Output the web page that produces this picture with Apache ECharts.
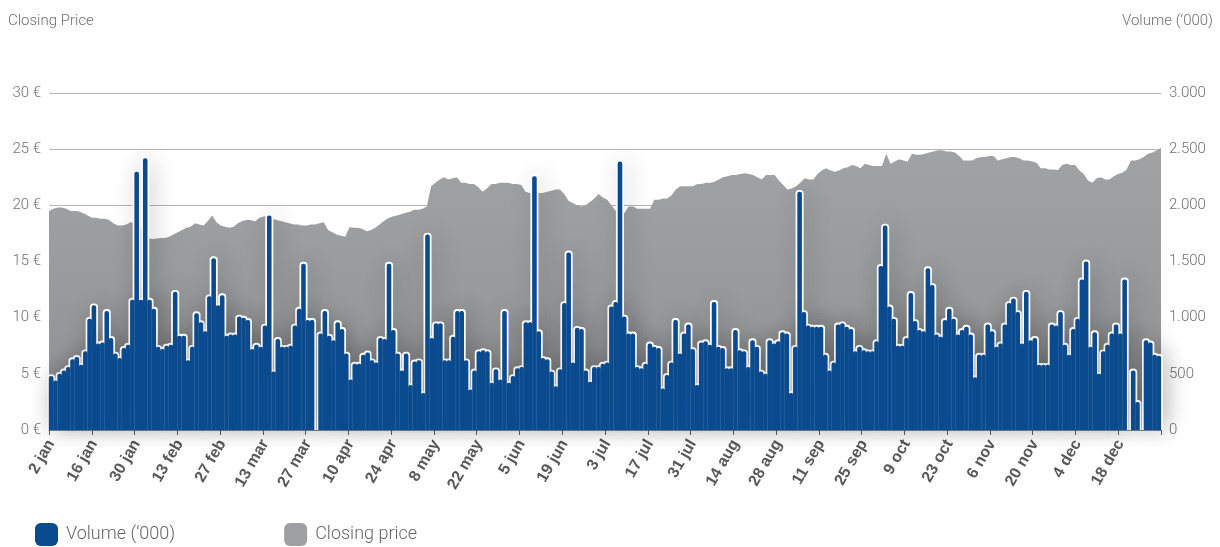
<!DOCTYPE html>
<html>
<head>
<meta charset="utf-8">
<script src="https://cdn.jsdelivr.net/npm/echarts@6/dist/echarts.min.js"></script>
<style>
html,body{margin:0;padding:0;background:#fff;}
#chart{width:1220px;height:547px;}
</style>
</head>
<body>
<div id="chart"></div>
<script>
// Volume ('000) per trading day, 2 jan – end of December
const volume = [
  480, 440, 500, 530, 560, 630, 650, 580, 700, 990,
  1110, 770, 780, 1060, 820, 680, 640, 730, 760, 1160,
  2300, 1160, 2420, 1160, 1080, 740, 720, 750, 760, 1230,
  840, 840, 620, 740, 1040, 960, 880, 1190, 1530, 1110,
  1200, 840, 850, 850, 1010, 1000, 980, 720, 760, 740,
  930, 1910, 520, 810, 740, 740, 750, 930, 1080, 1480,
  980, 980, null, 860, 1060, 840, 800, 960, 900, 680,
  450, 590, 590, 670, 690, 620, 600, 820, 810, 1480,
  890, 680, 530, 680, 400, 610, 620, 330, 1740, 820,
  950, 950, 620, 620, 830, 1060, 1060, 620, 360, 530,
  700, 710, 700, 420, 540, 450, 1060, 420, 480, 550,
  560, 960, 960, 2260, 880, 640, 630, 520, 390, 540,
  1130, 1580, 600, 910, 900, 530, 430, 560, 560, 590,
  600, 1100, 1140, 2390, 1010, 860, 860, 560, 550, 590,
  770, 740, 730, 370, 490, 600, 980, 680, 860, 940,
  720, 400, 780, 790, 760, 1140, 740, 730, 550, 550,
  890, 710, 700, 560, 800, 740, 520, 500, 800, 770,
  790, 870, 860, 330, 740, 2120, 1050, 930, 920, 920,
  920, 670, 530, 600, 940, 950, 920, 900, 700, 740,
  710, 700, 700, 790, 1460, 1820, 1100, 990, 750, 750,
  820, 1220, 970, 890, 880, 1440, 1290, 850, 830, 980,
  1080, 990, 850, 890, 920, 850, 470, 670, 670, 940,
  880, 740, 770, 940, 1130, 1170, 1050, 770, 1230, 800,
  820, 580, 580, 580, 940, 930, 1050, 760, 670, 900,
  990, 1340, 1500, 740, 870, 500, 700, 760, 860, 940,
  860, 1340, null, 530, 250, null, 800, 780, 670, 660
];

// Closing price (€) per trading day
const price = [
  19.5, 19.7, 19.8, 19.8, 19.7, 19.5, 19.5, 19.45, 19.3, 19.1,
  18.9, 18.9, 18.8, 18.8, 18.7, 18.4, 18.2, 18.2, 18.3, 18.5,
  18.4, 18.2, 17.6, 17.1, 17.0, 17.05, 17.1, 17.1, 17.2, 17.4,
  17.6, 17.8, 18.0, 18.1, 18.4, 18.3, 18.2, 18.6, 19.1, 18.5,
  18.2, 18.1, 18.0, 18.1, 18.4, 18.6, 18.7, 18.7, 18.55, 18.9,
  19.0, 19.1, 18.8, 18.7, 18.6, 18.5, 18.4, 18.3, 18.3, 18.2,
  18.2, 18.3, 18.3, 18.4, 18.5, 17.8, 17.6, 17.4, 17.3, 17.2,
  18.05, 18.0, 18.0, 17.9, 17.7, 17.8, 18.0, 18.3, 18.6, 18.85,
  19.0, 19.1, 19.2, 19.35, 19.4, 19.6, 19.6, 19.7, 19.9, 21.7,
  22.0, 22.3, 22.5, 22.3, 22.4, 22.5, 22.0, 22.0, 21.9, 21.9,
  21.6, 21.2, 21.5, 21.9, 21.9, 22.0, 22.0, 22.0, 21.9, 21.9,
  21.8, 21.2, 21.1, 21.1, 21.1, 21.1, 21.2, 21.3, 21.4, 21.4,
  21.0, 20.4, 20.2, 20.0, 19.9, 20.0, 20.3, 20.6, 21.0, 20.7,
  20.5, 20.0, 19.5, 19.2, 19.3, 19.9, 19.9, 19.7, 19.7, 19.7,
  19.7, 20.5, 20.5, 20.6, 20.6, 20.9, 21.4, 21.7, 21.7, 21.7,
  21.7, 21.9, 21.9, 22.0, 22.0, 22.1, 22.3, 22.5, 22.6, 22.7,
  22.7, 22.8, 22.85, 22.8, 22.7, 22.5, 22.3, 22.7, 22.7, 22.7,
  22.2, 21.8, 21.4, 21.5, 21.7, 22.0, 22.4, 22.3, 22.3, 22.8,
  23.1, 23.3, 23.1, 23.0, 23.1, 23.3, 23.4, 23.6, 23.5, 23.3,
  23.7, 23.6, 23.5, 23.5, 23.5, 24.6, 23.7, 23.9, 24.1, 24.0,
  23.9, 24.6, 24.5, 24.5, 24.6, 24.7, 24.8, 24.9, 24.9, 24.8,
  24.8, 24.7, 24.4, 24.0, 24.0, 24.0, 24.2, 24.3, 24.3, 24.4,
  24.4, 24.0, 24.1, 24.2, 24.3, 24.3, 24.2, 24.0, 24.0, 23.9,
  23.8, 23.3, 23.3, 23.2, 23.2, 23.15, 23.6, 23.7, 23.6, 23.6,
  23.1, 22.8, 22.2, 22.0, 22.4, 22.5, 22.3, 22.3, 22.6, 22.8,
  22.9, 23.2, 24.0, 24.0, 24.1, 24.3, 24.6, 24.7, 24.9, 25.1
];

const monthNames = ['jan','feb','mar','apr','may','jun','jul','aug','sep','oct','nov','dec'];
const firstDay = [2017, 0, 2]; // first trading day shown

// category labels: one per weekday, starting at firstDay
const categories = [];
(function () {
  const d = new Date(Date.UTC(firstDay[0], firstDay[1], firstDay[2]));
  while (categories.length < volume.length) {
    const wd = d.getUTCDay();
    if (wd !== 0 && wd !== 6) categories.push(d.getUTCDate() + ' ' + monthNames[d.getUTCMonth()]);
    d.setUTCDate(d.getUTCDate() + 1);
  }
})();

const priceTicks = { min: 0, max: 30, interval: 5 };
const volumeTicks = { min: 0, max: 3000, interval: 500 };
const labelEvery = 10;

function fmtThousands(v) {
  if (v >= 1000) return Math.floor(v / 1000) + '.' + String(v % 1000).padStart(3, '0');
  return String(v);
}

const BLUE = '#0a4a8e';
const GREY = '#9e9fa1';
const FONT = 'Roboto';
const OUT = 1.9; // white contour thickness (px)

const volumePairs = volume.map((v, i) => [i, v]);

function barRect(api, pad, overlap) {
  const v = api.value(1);
  if (v == null || isNaN(v)) return null;
  const i = api.value(0);
  const top = api.coord([i, v]);
  const base = api.coord([i, 0]);
  const w = api.size([1, 0])[0];
  return {
    x: top[0] - w / 2 - pad - overlap,
    y: top[1] - pad,
    width: w + 2 * pad + 2 * overlap,
    height: base[1] - top[1] + pad
  };
}

const chart = echarts.init(document.getElementById('chart'), null, { renderer: 'canvas' });
chart.setOption({
  animation: false,
  backgroundColor: '#ffffff',
  title: [
    { text: 'Closing Price', left: 3, top: 9,
      textStyle: { fontFamily: FONT, fontWeight: 300, fontSize: 15, color: '#6f6f6f' } },
    { text: 'Volume (\u2018000)', right: 2, top: 9,
      textStyle: { fontFamily: FONT, fontWeight: 300, fontSize: 15, color: '#6f6f6f' } }
  ],
  legend: {
    left: 30, top: 518,
    itemWidth: 23, itemHeight: 23, itemGap: 109,
    icon: 'roundRect',
    textStyle: { fontFamily: FONT, fontWeight: 300, fontSize: 18, color: '#666', padding: [0, 0, 0, 3] },
    data: [
      { name: 'Volume (\u2018000)', itemStyle: { color: BLUE } },
      { name: 'Closing price', itemStyle: { color: GREY } }
    ]
  },
  grid: { left: 49, right: 59, top: 93, bottom: 117, containLabel: false },
  xAxis: [
    {
      type: 'category', data: categories, boundaryGap: true,
      axisLine: { lineStyle: { color: '#8a8a8a', width: 1 } },
      axisTick: { show: true, interval: labelEvery - 1, length: 5, lineStyle: { color: '#666' } },
      axisLabel: {
        interval: labelEvery - 1, rotate: 60, margin: 11,
        fontFamily: 'Liberation Sans', fontWeight: 'bold', fontSize: 16, color: '#595959'
      },
      splitLine: { show: false }
    },
    { type: 'category', data: categories, boundaryGap: false, show: false }
  ],
  yAxis: [
    {
      type: 'value', min: priceTicks.min, max: priceTicks.max, interval: priceTicks.interval,
      position: 'left',
      axisLine: { show: false }, axisTick: { show: false },
      axisLabel: { formatter: '{value} \u20ac', margin: 8, fontFamily: FONT, fontWeight: 300, fontSize: 15, color: '#707070' },
      splitLine: { show: true, lineStyle: { color: '#b5b5b5', width: 1 } }
    },
    {
      type: 'value', min: volumeTicks.min, max: volumeTicks.max, interval: volumeTicks.interval,
      position: 'right',
      axisLine: { show: false }, axisTick: { show: false },
      axisLabel: { formatter: fmtThousands, margin: 8, fontFamily: FONT, fontWeight: 300, fontSize: 15, color: '#707070' },
      splitLine: { show: false }
    }
  ],
  series: [
    {
      name: 'Closing price', type: 'line', xAxisIndex: 1, yAxisIndex: 0,
      data: price, symbol: 'none', z: 1,
      itemStyle: { color: GREY },
      lineStyle: { width: 0, color: GREY },
      areaStyle: {
        opacity: 1,
        color: new echarts.graphic.LinearGradient(0, 0, 0, 1, [
          { offset: 0, color: '#a1a2a4' },
          { offset: 0.55, color: '#98999b' },
          { offset: 1, color: '#8c8d8f' }
        ])
      }
    },
    {
      name: 'outline', type: 'custom', xAxisIndex: 0, yAxisIndex: 1,
      data: volumePairs, z: 2, silent: true,
      encode: { x: 0, y: 1 },
      renderItem: function (params, api) {
        const r = barRect(api, OUT, 0);
        if (!r) return null;
        return {
          type: 'rect',
          shape: { x: r.x, y: r.y, width: r.width, height: r.height, r: [3.5, 3.5, 0, 0] },
          style: { fill: '#ffffff', shadowBlur: 24, shadowColor: 'rgba(0,0,0,0.2)', shadowOffsetX: 4 }
        };
      }
    },
    {
      name: 'Volume (\u2018000)', type: 'custom', xAxisIndex: 0, yAxisIndex: 1,
      data: volumePairs, z: 3,
      encode: { x: 0, y: 1 },
      itemStyle: { color: BLUE },
      renderItem: function (params, api) {
        const r = barRect(api, 0, 0.15);
        if (!r) return null;
        return {
          type: 'rect',
          shape: { x: r.x, y: r.y, width: r.width, height: r.height, r: [2, 2, 0, 0] },
          style: { fill: BLUE }
        };
      }
    }
  ]
});
</script>
</body>
</html>
